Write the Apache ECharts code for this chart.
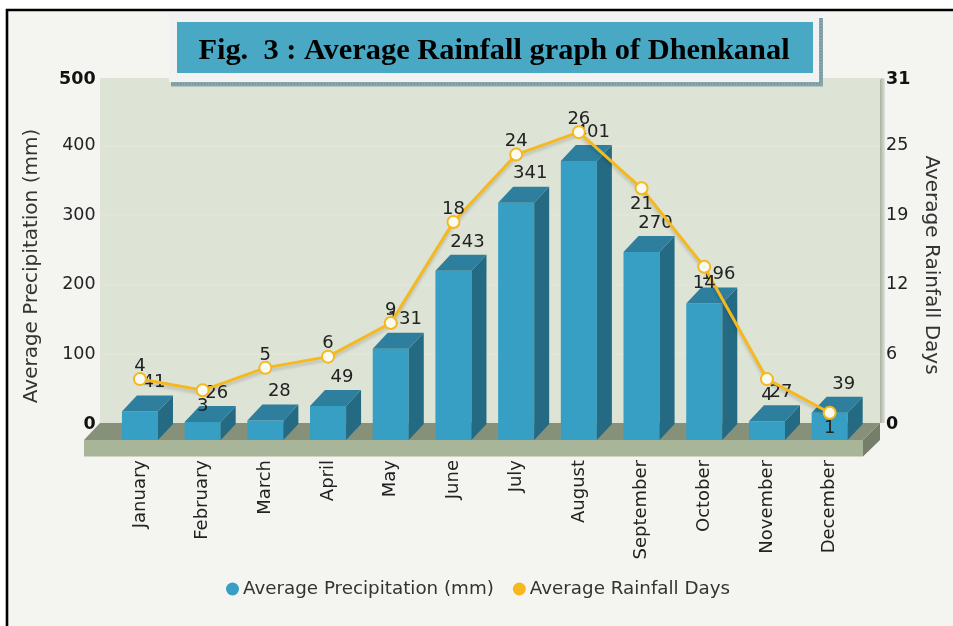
<!DOCTYPE html>
<html><head><meta charset="utf-8">
<style>html,body{margin:0;padding:0;background:#fff}#c{width:953px;height:626px}</style>
<script src="https://cdn.jsdelivr.net/npm/echarts@6/dist/echarts.min.js"></script>
</head><body><div id="c"></div>
<script>
var months = ['January','February','March','April','May','June','July','August','September','October','November','December'];
var precipitation = [41,26,28,49,131,243,341,401,270,196,27,39];
var rainfallDays = [4,3,5,6,9,18,24,26,21,14,4,1];
var daysLabelBelow = ['February','September','October','November','December'];
var titleText = 'Fig.  3 : Average Rainfall graph of Dhenkanal';
var seriesNames = ['Average Precipitation (mm)','Average Rainfall Days'];

var FONT = '"DejaVu Sans"';
var DX = 15, DY = 16;

function poly(pts, fill){ return {type:'polygon', shape:{points:pts}, style:{fill:fill}, silent:true}; }
function rect(x,y,w,h,fill){ return {type:'rect', shape:{x:x,y:y,width:w,height:h}, style:{fill:fill}, silent:true}; }
function gridLine(y){ return {type:'line', shape:{x1:100,y1:y,x2:880,y2:y}, style:{stroke:'#e4e8dc',lineWidth:1}, silent:true}; }

var chrome = [
  rect(0,0,953,626,'#ffffff'),
  rect(7,10,1000,700,'#f4f5f1'),
  {type:'rect', shape:{x:7,y:10,width:1000,height:700}, style:{fill:'none',stroke:'#000',lineWidth:2.6}, silent:true},
  rect(100,78,780,346,'#dde3d5'),
  gridLine(146), gridLine(215), gridLine(285), gridLine(354),
  {type:'rect', shape:{x:880,y:78,width:5,height:345,r:[3,3,0,0]}, style:{fill:new echarts.graphic.LinearGradient(0,0,1,0,[{offset:0,color:'#a9b09f'},{offset:1,color:'#dfe3da'}])}, silent:true},
  poly([[84,440],[100,423],[880,423],[863,440]],'#87917a'),
  rect(84,440,779,16.5,'#a9b598'),
  poly([[863,440],[880,423],[880,440],[863,456.5]],'#747e69'),
  rect(171,82,652,4.5,'#86a6aa'),
  rect(818.5,18,4.5,68,'#86a6aa'),
  {type:'line', shape:{x1:171,y1:84,x2:821,y2:84}, style:{stroke:'#5f8488',lineWidth:1,lineDash:[1,2]}, silent:true},
  {type:'line', shape:{x1:821,y1:18,x2:821,y2:84}, style:{stroke:'#5f8488',lineWidth:1,lineDash:[1,2]}, silent:true},
  rect(169,13,650,69,'#f2f2f2'),
  rect(177,22,636,51,'#49a9c5')
];

function tickLabel(labelFn){
  return function(v, i){
    var s = labelFn(v);
    if (i === 5) return '{t|' + s + '}';
    return v === 0 ? '{b|' + s + '}' : s;
  };
}
var tickRich = {
  b:{fontWeight:'bold',fontSize:17.5,color:'#111',fontFamily:FONT},
  t:{fontWeight:'bold',fontSize:17.5,color:'#111',fontFamily:FONT,padding:[6,0,0,0]}
};

var option = {
  animation:false,
  backgroundColor:'#ffffff',
  textStyle:{fontFamily:FONT},
  graphic:{elements:chrome},
  title:{
    text:titleText, left:489, top:29, textAlign:'center', z:10,
    textStyle:{fontFamily:'"Liberation Serif"', fontWeight:'bold', fontSize:30.4, color:'#000', lineHeight:34}
  },
  legend:{
    left:221, top:575, itemWidth:13, itemHeight:13, itemGap:19,
    textStyle:{fontFamily:FONT, fontSize:18.3, color:'#333', padding:[0,0,0,-1]},
    data:[
      {name:seriesNames[0], icon:'circle', itemStyle:{color:'#379fc3', borderWidth:0}},
      {name:seriesNames[1], icon:'circle', itemStyle:{color:'#f5b81f', borderWidth:0}}
    ]
  },
  grid:{left:108.6, width:752.4, top:76, height:348},
  xAxis:{
    type:'category', data:months, boundaryGap:true,
    axisLine:{show:false}, axisTick:{show:false},
    axisLabel:{rotate:90, margin:36, interval:0, fontSize:18, color:'#222', fontFamily:FONT}
  },
  yAxis:[
    {type:'value', min:0, max:500, interval:100, position:'left',
     name:seriesNames[0], nameLocation:'middle', nameGap:67, nameRotate:90,
     nameTextStyle:{fontSize:20, color:'#333', fontFamily:FONT, padding:[0,32,0,0]},
     axisLine:{show:false}, axisTick:{show:false}, splitLine:{show:false},
     axisLabel:{margin:13, fontSize:17.5, color:'#222', fontFamily:FONT,
       formatter:tickLabel(function(v){return v;}), rich:tickRich}},
    {type:'value', min:0, max:31, interval:6.2, position:'right',
     name:seriesNames[1], nameLocation:'middle', nameGap:60, nameRotate:-90,
     nameTextStyle:{fontSize:20, color:'#333', fontFamily:FONT, padding:[0,0,0,30]},
     axisLine:{show:false}, axisTick:{show:false}, splitLine:{show:false},
     axisLabel:{margin:25, fontSize:17.5, color:'#222', fontFamily:FONT,
       formatter:tickLabel(function(v){return Math.round(v);}), rich:tickRich}}
  ],
  series:[
    {
      name:seriesNames[0], type:'custom', yAxisIndex:0, z:3,
      itemStyle:{color:'#379fc3'},
      data:precipitation.map(function(v,i){return [i,v];}),
      encode:{x:0,y:1},
      renderItem:function(params, api){
        var top = api.coord([api.value(0), api.value(1)]);
        var base = api.coord([api.value(0), 0]);
        var w = api.size([1,0])[0]*0.575;
        var l = top[0]-w/2, r = top[0]+w/2, t = top[1]+DY, b = base[1]+DY;
        return {type:'group', children:[
          {type:'rect', shape:{x:l,y:t,width:w,height:b-t}, style:{fill:'#379fc3'}},
          {type:'polygon', shape:{points:[[r,t],[r+DX,t-DY],[r+DX,b-DY],[r,b]]}, style:{fill:'#246a82'}},
          {type:'polygon', shape:{points:[[l,t],[l+DX,t-DY],[r+DX,t-DY],[r,t]]}, style:{fill:'#2d7f9d'}},
          {type:'text', z2:5, style:{text:String(api.value(1)), x:top[0]+DX-1, y:t-DY-13, align:'center', verticalAlign:'middle', fill:'#222', font:'18px '+FONT}}
        ]};
      }
    },
    {
      name:seriesNames[1], type:'line', yAxisIndex:1, z:5, smooth:false,
      symbol:'circle', symbolSize:12,
      lineStyle:{color:'#f5b81f', width:3, shadowColor:'rgba(0,0,0,0.15)', shadowBlur:3, shadowOffsetY:3},
      itemStyle:{color:'#fbfbf2', borderColor:'#f5b81f', borderWidth:2},
      data:rainfallDays.map(function(v,i){
        var below = daysLabelBelow.indexOf(months[i])>=0;
        return {value:v, label:{position: below ? 'bottom':'top', distance: below ? 0 : -3}};
      }),
      label:{show:true, fontSize:18, color:'#222', fontFamily:FONT}
    }
  ]
};
var chart = echarts.init(document.getElementById('c'));
chart.setOption(option);
</script></body></html>
